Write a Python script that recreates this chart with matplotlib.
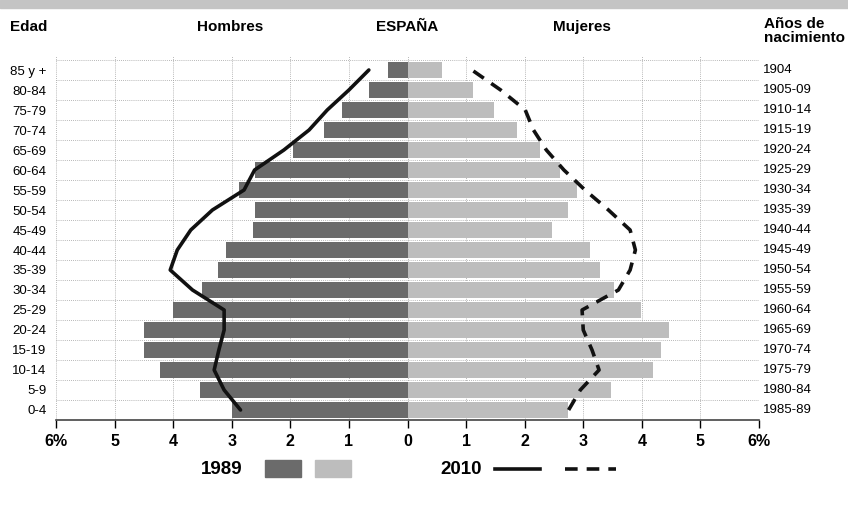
import matplotlib.pyplot as plt
from matplotlib.patches import Rectangle
from matplotlib.lines import Line2D

# age groups from youngest to oldest
edades = ["0-4", "5-9", "10-14", "15-19", "20-24", "25-29", "30-34", "35-39",
          "40-44", "45-49", "50-54", "55-59", "60-64", "65-69", "70-74",
          "75-79", "80-84", "85 y +"]
nacimiento = ["1985-89", "1980-84", "1975-79", "1970-74", "1965-69", "1960-64",
              "1955-59", "1950-54", "1945-49", "1940-44", "1935-39", "1930-34",
              "1925-29", "1920-24", "1915-19", "1910-14", "1905-09", "1904"]

# 1989 (bars), % of population
hombres_1989 = [3.0, 3.55, 4.23, 4.49, 4.5, 4.0, 3.5, 3.24, 3.1, 2.63,
                2.61, 2.88, 2.61, 1.95, 1.43, 1.11, 0.66, 0.33]
mujeres_1989 = [2.74, 3.47, 4.19, 4.33, 4.46, 3.99, 3.52, 3.29, 3.12, 2.47,
                2.74, 2.89, 2.61, 2.27, 1.87, 1.47, 1.12, 0.59]

# 2010 (lines)
hombres_2010 = [2.85, 3.13, 3.3, 3.22, 3.13, 3.13, 3.67, 4.05, 3.93, 3.7,
                3.33, 2.79, 2.61, 2.11, 1.68, 1.37, 1.0, 0.66]
mujeres_2010 = [2.75, 2.95, 3.27, 3.15, 3.0, 2.98, 3.6, 3.8, 3.89, 3.8,
                3.43, 3.03, 2.67, 2.37, 2.15, 2.01, 1.59, 1.1]

x_ticks = [-6, -5, -4, -3, -2, -1, 0, 1, 2, 3, 4, 5, 6]
x_labels = ["6%", "5", "4", "3", "2", "1", "0", "1", "2", "3", "4", "5", "6%"]

c_hombres = "#6b6b6b"
c_mujeres = "#bdbdbd"
plt.rcParams["font.family"] = ["Liberation Sans", "DejaVu Sans"]

fig = plt.figure(figsize=(8.48, 5.11), dpi=100)
ax = fig.add_axes([56 / 848, 1 - 420 / 511, 703 / 848, 364 / 511])

y = list(range(len(edades)))

# dotted grid
for i in range(len(edades)):
    ax.axhline(i + 0.5, color="#a0a0a0", lw=0.6, ls=(0, (1, 1.5)), zorder=0)
for t in x_ticks:
    ax.axvline(t, color="#a0a0a0", lw=0.6, ls=(0, (1, 1.5)), zorder=0)

ax.barh(y, [-v for v in hombres_1989], height=0.84, color=c_hombres, zorder=2)
ax.barh(y, mujeres_1989, height=0.84, color=c_mujeres, zorder=2)

ax.plot([-v for v in hombres_2010], y, color="#111111", lw=2.6,
        solid_capstyle="round", zorder=3)
ax.plot(mujeres_2010, y, color="#111111", lw=2.6, dashes=(3.5, 2.5), zorder=3)

ax.set_xlim(-6, 6)
ax.set_ylim(-0.5, 17.7)
ax.set_xticks(x_ticks)
ax.set_xticklabels(x_labels, fontsize=11.5, fontweight="bold")
ax.tick_params(axis="x", length=6, width=1, direction="out", pad=4)
ax.set_yticks(y)
ax.set_yticklabels(edades, fontsize=9.5)
ax.tick_params(axis="y", length=0, pad=7)

for s in ["top", "left", "right"]:
    ax.spines[s].set_visible(False)
ax.spines["bottom"].set_linewidth(1.2)
ax.spines["bottom"].set_color("#444444")

for i, lab in enumerate(nacimiento):
    ax.text(6.07, i, lab, fontsize=9.5, va="center", ha="left")

# top band
fig.patches.append(Rectangle((0, 1 - 8 / 511), 1, 8 / 511, transform=fig.transFigure,
                             color="#c4c4c4", zorder=0))

# headers
hy = 1 - 27 / 511
fig.text(10 / 848, hy, "Edad", fontsize=11, fontweight="bold", va="center")
fig.text(230 / 848, hy, "Hombres", fontsize=11, fontweight="bold", va="center", ha="center")
fig.text(407 / 848, hy, "ESPAÑA", fontsize=11, fontweight="bold", va="center", ha="center")
fig.text(582 / 848, hy, "Mujeres", fontsize=11, fontweight="bold", va="center", ha="center")
fig.text(764 / 848, 1 - 31 / 511, "Años de\nnacimiento", fontsize=11,
         fontweight="bold", va="center", ha="left", linespacing=0.95)

# legend
ly = 1 - 469 / 511
fig.text(201 / 848, ly, "1989", fontsize=13.5, fontweight="bold", va="center")
fig.patches.append(Rectangle((265 / 848, 1 - 477 / 511), 36 / 848, 17 / 511,
                             transform=fig.transFigure, color=c_hombres))
fig.patches.append(Rectangle((315 / 848, 1 - 477 / 511), 36 / 848, 17 / 511,
                             transform=fig.transFigure, color=c_mujeres))
fig.text(440 / 848, ly, "2010", fontsize=13.5, fontweight="bold", va="center")
fig.lines.append(Line2D([495 / 848, 540 / 848], [ly, ly], transform=fig.transFigure,
                        color="#111111", lw=2.6))
fig.lines.append(Line2D([565 / 848, 616 / 848], [ly, ly], transform=fig.transFigure,
                        color="#111111", lw=2.6, dashes=(3.5, 2.5)))

fig.savefig("out.png", dpi=100)
